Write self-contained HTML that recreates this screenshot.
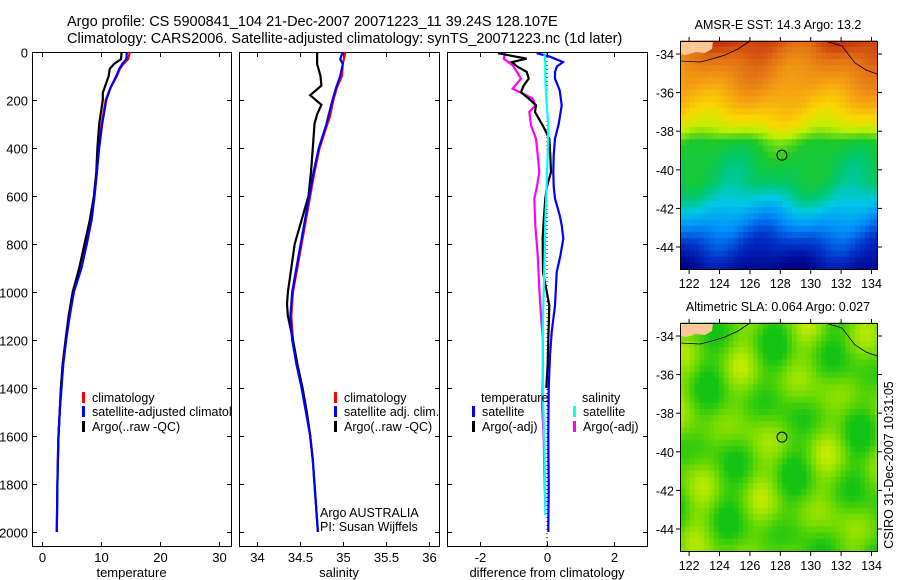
<!DOCTYPE html>
<html><head><meta charset="utf-8"><style>
body{margin:0;background:#fff}
svg{display:block;font-family:"Liberation Sans",sans-serif}
</style></head><body>
<svg id="s" width="900" height="580" xmlns="http://www.w3.org/2000/svg">
<defs><clipPath id="c1"><rect x="32" y="40" width="199" height="520"/></clipPath></defs>
<text x="67" y="26" font-size="14.5">Argo profile: CS 5900841_104 21-Dec-2007 20071223_11 39.24S 128.107E</text>
<text x="67" y="43" font-size="14.5">Climatology: CARS2006. Satellite-adjusted climatology: synTS_20071223.nc (1d later)</text>
<g id="maps"></g>
<g id="panels"></g>
<text transform="translate(893,465) rotate(-90)" text-anchor="middle" font-size="12.5">CSIRO 31-Dec-2007 10:31:05</text>
</svg>
<script>
// ---------- data ----------
const depthTicks=[0,200,400,600,800,1000,1200,1400,1600,1800,2000];
const tempTicks=[0,10,20,30];
const salTicks=[34,34.5,35,35.5,36];
const diffTicks=[-2,0,2];
const tClimDepth=[0,30,50,70,100,150,200,300,400,500,600,700,800,900,1000,1100,1200,1300,1400,1500,1600,1680];
const tClim=[14.9,14.6,13.8,13.2,12.7,11.6,10.8,10.1,9.6,9.3,8.9,8.4,7.5,6.6,5.3,4.6,4.0,3.5,3.2,3.0,2.8,2.7];
const tSatDepth=[0,30,50,70,100,150,200,300,400,500,600,700,800,900,1000,1100,1200,1300,1400,1500,1600,1700,1800,1900,2000];
const tSat=[14.4,14.3,13.6,13.1,12.6,11.6,10.9,10.2,9.7,9.3,8.9,8.4,7.6,6.7,5.4,4.7,4.1,3.6,3.3,3.0,2.8,2.7,2.6,2.55,2.5];
const tArgoDepth=[0,30,50,70,100,150,170,200,300,400,500,600,700,800,900,1000,1100,1200,1300,1400,1500,1600,1700,1800,1900,2000];
const tArgo=[13.5,13.4,12.2,11.5,11.3,10.6,10.3,10.3,9.7,9.4,9.2,8.8,8.1,7.2,6.3,5.2,4.5,4.0,3.5,3.2,3.0,2.8,2.7,2.6,2.55,2.5];
const sClimDepth=[0,50,100,150,200,270,300,400,500,600,700,800,900,1000,1100,1200,1300,1400,1500,1600,1700];
const sClim=[35.03,35.0,34.99,34.93,34.89,34.85,34.82,34.73,34.67,34.62,34.57,34.52,34.47,34.42,34.40,34.42,34.47,34.53,34.58,34.62,34.65];
const sSatDepth=[0,30,50,100,150,200,270,300,400,500,600,700,800,900,1000,1100,1200,1300,1400,1500,1600,1700,1800,1900,2000];
const sSat=[35.0,34.97,35.0,34.97,34.92,34.88,34.83,34.81,34.72,34.66,34.61,34.56,34.51,34.46,34.41,34.39,34.41,34.46,34.52,34.57,34.62,34.65,34.67,34.69,34.71];
const sArgoDepth=[0,50,100,140,180,220,260,300,400,500,600,700,800,900,1000,1050,1100,1200,1300,1400,1500,1600,1700,1800,1900,2000];
const sArgo=[34.70,34.70,34.74,34.75,34.62,34.75,34.70,34.67,34.65,34.63,34.6,34.52,34.44,34.40,34.36,34.35,34.36,34.42,34.47,34.53,34.58,34.62,34.65,34.67,34.69,34.71];
const dTSatDepth=[5,20,42,60,83,111,160,222,300,361,430,500,560,611,680,722,778,850,917,1000,1056,1167,1264,1400,1600,1800,2000];
const dTSat=[-0.31,0.1,0.48,0.3,0.24,0.24,0.38,0.44,0.35,0.24,0.2,0.19,0.2,0.24,0.38,0.44,0.49,0.4,0.29,0.26,0.24,0.14,0.09,0.05,0.04,0.05,0.04];
const dTArgoDepth=[5,28,42,60,83,111,140,167,200,222,250,306,361,430,500,560,611,700,778,917,1056,1200,1300,1400];
const dTArgo=[-1.47,-0.61,-1.05,-0.9,-0.61,-0.55,-0.7,-0.78,-0.5,-0.33,-0.36,-0.13,0.07,0.1,0.12,0.0,-0.05,-0.1,-0.13,-0.12,0.07,0.04,0.02,-0.02];
const dSSatDepth=[5,50,100,200,300,400,500,600,700,800,900,1000,1100,1200,1333,1450,1611,1800,1930];
const dSSat=[-0.08,-0.05,-0.05,-0.02,0.04,0.03,0.0,-0.02,-0.05,-0.06,-0.08,-0.1,-0.12,-0.13,-0.13,-0.12,-0.08,-0.06,-0.05];
const dSArgoDepth=[5,28,56,83,111,153,194,222,250,306,361,430,500,560,611,722,847,986,1100,1194,1300,1472,1600,1750,1889];
const dSArgo=[-1.25,-1.3,-1.03,-0.9,-0.78,-1.03,-0.43,-0.35,-0.53,-0.48,-0.33,-0.28,-0.23,-0.3,-0.38,-0.35,-0.28,-0.23,-0.18,-0.13,-0.12,-0.15,-0.1,-0.08,-0.05];
const sstLat=[-33.3,-34.5,-35.5,-36.5,-37.5,-38.5,-39.5,-40.5,-41.5,-42.5,-43.5,-44.5,-45.2];
const sstVal=[16.9,16.3,15.9,15.4,14.7,13.5,13.2,13.0,12.4,11.7,11.0,10.4,10.0];
const mapLonTicks=[122,124,126,128,130,132,134];
const mapLatTicks=[-34,-36,-38,-40,-42,-44];
const floatLon=128.107, floatLat=-39.24;

// ---------- helpers ----------
const NS="http://www.w3.org/2000/svg";
function mk(tag,attrs,parent){const e=document.createElementNS(NS,tag);for(const k in attrs)e.setAttribute(k,attrs[k]);parent.appendChild(e);return e;}
const P=document.getElementById('panels');
const yD=d=>52+d*0.24;
const panels=[
 {x0:32,x1:231,lo:-1.7,hi:32.05,ticks:tempTicks,label:'temperature',name:'temperature'},
 {x0:239,x1:439,lo:33.791,hi:36.12,ticks:salTicks,label:'salinity',name:'salinity'},
 {x0:447,x1:647,lo:-3.0,hi:3.0,ticks:diffTicks,label:'difference from climatology',name:'difference'}
];
panels.forEach((p,i)=>{
 p.sx=v=>p.x0+(v-p.lo)/(p.hi-p.lo)*(p.x1-p.x0);
 const g=mk('g',{},P);
 
 
 const r=mk('rect',{x:p.x0+0.5,y:52.5,width:p.x1-p.x0,height:494,fill:'none',stroke:'#000','stroke-width':1},g);
 
 
 depthTicks.forEach(d=>{
  const y=yD(d)+0.5;
  mk('line',{x1:p.x0,x2:p.x0+5,y1:y,y2:y,stroke:'#000'},g);
  mk('line',{x1:p.x1-4,x2:p.x1+1,y1:y,y2:y,stroke:'#000'},g);
  if(i===0){const t=mk('text',{x:28,y:y+5,'text-anchor':'end','font-size':13},g);t.textContent=d;
   
   }
 });
 p.ticks.forEach(v=>{
  const x=Math.round(p.sx(v))+0.5;
  mk('line',{x1:x,x2:x,y1:52,y2:57,stroke:'#000'},g);
  mk('line',{x1:x,x2:x,y1:542,y2:547,stroke:'#000'},g);
  const t=mk('text',{x:x,y:562,'text-anchor':'middle','font-size':13},g);t.textContent=(v<0?'-'+Math.abs(v):v);
  
  
 });
 const xl=mk('text',{x:(p.x0+p.x1)/2,y:577,'text-anchor':'middle','font-size':13},g);xl.textContent=p.label;
 
 
});
function line(p,ds,vs,color,name){
 const pts=ds.map((d,k)=>p.sx(vs[k]).toFixed(1)+','+yD(d).toFixed(1)).join(' ');
 const e=mk('polyline',{points:pts,fill:'none',stroke:color,'stroke-width':2.2,'stroke-linejoin':'miter'},P);
 
 
}
const [p1,p2,p3]=panels;
const z=mk('line',{x1:p3.sx(0),x2:p3.sx(0),y1:53,y2:546,stroke:'#000','stroke-dasharray':'1,3'},P);


line(p1,tClimDepth,tClim,'#f00','temp-climatology-line');
line(p1,tArgoDepth,tArgo,'#000','temp-argo-line');
line(p1,tSatDepth,tSat,'#00f','temp-satellite-line');
line(p2,sClimDepth,sClim,'#f00','sal-climatology-line');
line(p2,sArgoDepth,sArgo,'#000','sal-argo-line');
line(p2,sSatDepth,sSat,'#00f','sal-satellite-line');
line(p3,dSArgoDepth,dSArgo,'#f0f','diff-sal-argo-line');
line(p3,dTArgoDepth,dTArgo,'#000','diff-temp-argo-line');
line(p3,dTSatDepth,dTSat,'#00f','diff-temp-satellite-line');
line(p3,dSSatDepth,dSSat,'#0ff','diff-sal-satellite-line');
function leg(x,y,color,txt,name,clip){
 const g=mk('g',clip?{'clip-path':'url(#c1)'}:{},P);
 if(color){const b=mk('rect',{x:x-10,y:y-10,width:3,height:11,fill:color},g);
  
  }
 const t=mk('text',{x:x,y:y,'font-size':12.5},g);t.textContent=txt;
 
 
}
leg(92,402,'#f00','climatology','legend-climatology',1);
leg(92,416,'#00f','satellite-adjusted climatology','legend-satellite-adjusted',1);
leg(92,431,'#000','Argo(..raw -QC)','legend-argo-raw',1);
leg(344,402,'#f00','climatology','legend2-climatology');
leg(344,416,'#00f','satellite adj. clim.','legend2-satellite-adj');
leg(344,431,'#000','Argo(..raw -QC)','legend2-argo-raw');
leg(320,517,null,'Argo AUSTRALIA','argo-australia-label');
leg(320,531,null,'PI: Susan Wijffels','pi-label');
leg(481,402,null,'temperature','legend-temperature-header');
leg(482,416,'#00f','satellite','legend-temp-satellite');
leg(482,431,'#000','Argo(-adj)','legend-temp-argo');
leg(582,402,null,'salinity','legend-salinity-header');
leg(583,416,'#0ff','satellite','legend-sal-satellite');
leg(583,431,'#f0f','Argo(-adj)','legend-sal-argo');

// ---------- maps ----------
const M=document.getElementById('maps');
const mx=lon=>680+(lon-121.4)*15.2;
const stops=[[10,[0,0,140]],[10.8,[0,50,200]],[11.6,[0,140,250]],[12.3,[0,200,230]],[12.9,[0,200,110]],[13.5,[30,200,40]],[14.3,[190,240,0]],[15,[250,215,0]],[15.8,[245,160,20]],[16.6,[225,110,20]],[17.3,[190,40,10]],[18,[140,0,0]]];
function cmap(v){if(v<=stops[0][0])return stops[0][1];for(let i=1;i<stops.length;i++){if(v<=stops[i][0]){const a=stops[i-1],b=stops[i],t=(v-a[0])/(b[0]-a[0]);return a[1].map((c,k)=>Math.round(c+(b[1][k]-c)*t));}}return stops[stops.length-1][1];}
function sstAt(lat){for(let i=1;i<sstLat.length;i++){if(lat>=sstLat[i]){const t=(lat-sstLat[i-1])/(sstLat[i]-sstLat[i-1]);return sstVal[i-1]+(sstVal[i]-sstVal[i-1])*t;}}return sstVal[sstVal.length-1];}
function slaColor(t){
 t=Math.max(0,Math.min(1,t));
 const a=[20,195,20],b=[120,220,0],c=[215,240,0];
 const [p,q,u]=t<0.5?[a,b,t*2]:[b,c,(t-0.5)*2];
 return p.map((v,k)=>Math.round(v+(q[k]-v)*u));
}
function drawMap(y0,title,kind,name){
 const my=lat=>y0+13+(-34-lat)*19.3;
 const g=mk('g',{},M);
 
 
 const step=0.32;
 for(let lat=-33.3;lat>-45.2;lat-=step){
  for(let lon=121.4;lon<134.4;lon+=step){
   let col;
   if(kind==='sst'){
    const v=sstAt(lat)+0.25*Math.sin(lon*0.8+lat*0.5)+0.15*Math.sin(lon*1.6-lat*1.1);
    col=cmap(v);
   }else{
    const v=0.35+0.35*Math.sin(lon*0.9+lat*1.1)*Math.cos(lat*0.8-lon*0.5)+0.2*Math.sin(lon*1.7-lat*0.6);
    col=slaColor(v);
   }
   const x=mx(lon),y=my(lat);
   mk('rect',{x:x.toFixed(1),y:y.toFixed(1),width:(step*15.2+0.6).toFixed(1),height:(step*19.3+0.6).toFixed(1),fill:'rgb('+col.join(',')+')'},g);
  }
 }
 mk('rect',{x:877.5,y:y0-5,width:10,height:240,fill:'#fff'},g);
 mk('rect',{x:670,y:y0+228.5,width:220,height:10,fill:'#fff'},g);
 mk('polygon',{points:`680,${y0} 713,${y0} 712,${y0+8} 705,${y0+12} 696,${y0+11} 686,${y0+14} 680,${y0+13}`,fill:'#fbc896'},g);
 mk('polyline',{points:`680,${y0+20} 700,${y0+21} 712,${y0+18} 725,${y0+14} 738,${y0+8} 750,${y0}`,fill:'none',stroke:'#000','stroke-width':0.8},g);
 mk('polyline',{points:`825,${y0} 842,${y0+5} 855,${y0+22} 866,${y0+29} 877,${y0+33}`,fill:'none',stroke:'#000','stroke-width':0.8},g);
 const fr=mk('rect',{x:680.5,y:y0+0.5,width:197,height:228,fill:'none',stroke:'#000'},g);
 
 
 const c=mk('circle',{cx:mx(floatLon),cy:my(floatLat),r:5,fill:'none',stroke:'#000','stroke-width':1},g);
 
 
 mapLonTicks.forEach(lon=>{const x=mx(lon);
  mk('line',{x1:x,x2:x,y1:y0+228,y2:y0+233,stroke:'#000'},g);
  mk('line',{x1:x,x2:x,y1:y0,y2:y0-4,stroke:'#000'},g);
  const t=mk('text',{x:x,y:y0+247,'text-anchor':'middle','font-size':12.5},g);t.textContent=lon;
  
  });
 mapLatTicks.forEach(lat=>{const y=my(lat);
  mk('line',{x1:676,x2:680,y1:y,y2:y,stroke:'#000'},g);
  mk('line',{x1:878,x2:882,y1:y,y2:y,stroke:'#000'},g);
  const t=mk('text',{x:674,y:y+5,'text-anchor':'end','font-size':12.5},g);t.textContent=lat;
  
  });
 const tt=mk('text',{x:778,y:y0-12,'text-anchor':'middle','font-size':12.5},g);tt.textContent=title;
 
 
}
drawMap(41,'AMSR-E SST: 14.3 Argo: 13.2','sst','sst-map');
drawMap(323,'Altimetric SLA: 0.064  Argo: 0.027','sla','sla-map');
</script>
</body></html>
